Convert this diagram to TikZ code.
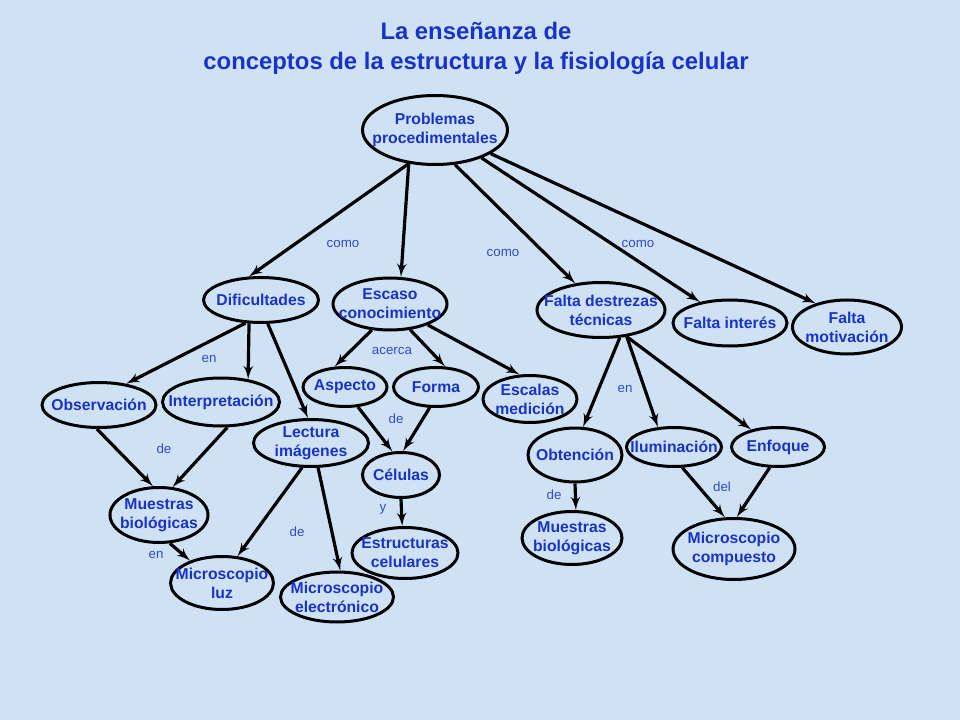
\documentclass[tikz,border=0pt]{standalone}
\usepackage{fontspec}
\setmainfont{Liberation Sans}
\usetikzlibrary{shapes, arrows}
\definecolor{bgblue}{RGB}{207,226,245}
\definecolor{nodeblue}{RGB}{25,50,200}
\definecolor{linkblue}{RGB}{50,75,205}
\begin{document}
\begin{tikzpicture}[
        x=0.75pt,
        y=-0.75pt,
        concept/.style={
            ellipse,
            draw,
            line width=2.25pt,
            text=nodeblue,
            font=\bfseries\fontsize{11.8}{14.2}\selectfont,
            align=center,
            inner sep=-15pt
        },
        dims/.style 2 args={
            minimum width=#1*0.75pt,
            minimum height=#2*0.75pt
        },
        link/.style={
            text=linkblue,
            font=\fontsize{10}{12}\selectfont
        },
        line/.style={
            draw,
            -latex',
            line width=2.4pt
        }
    ]
        \fill [bgblue] (0,0) rectangle (960,720);
        \useasboundingbox (0,0) rectangle (960,720);

        % Title
        \node [text=nodeblue, font=\bfseries\fontsize{17.9}{22.5}\selectfont, align=center] (title) at (476,48)
            {La enseñanza de\\conceptos de la estructura y la fisiología celular};

        % Nodes
        \node [concept, dims={145}{69}] (problemas) at (435,130) {Problemas\\procedimentales};
        \node [concept, dims={115}{45}] (dificultades) at (261,300) {Dificultades};
        \node [concept, dims={114}{52}] (escaso) at (390,304) {Escaso\\conocimiento};
        \node [concept, dims={128}{55}] (destrezas) at (601,310) {Falta destrezas\\técnicas};
        \node [concept, dims={114}{46}] (interes) at (730,323) {Falta interés};
        \node [concept, dims={109}{54}] (motivacion) at (847,327) {Falta\\motivación};
        \node [concept, dims={114}{45}] (observacion) at (99,405) {Observación};
        \node [concept, dims={117}{48}] (interpretacion) at (221,402) {Interpretación};
        \node [concept, dims={115}{47}] (lectura) at (311,443) {Lectura\\imágenes};
        \node [concept, dims={84}{39}] (aspecto) at (345,387) {Aspecto};
        \node [concept, dims={85}{39}] (forma) at (436,387) {Forma};
        \node [concept, dims={94}{47}] (escalas) at (530,399) {Escalas\\medición};
        \node [concept, dims={77}{45}] (celulas) at (401,475) {Células};
        \node [concept, dims={106}{51}] (estructuras) at (405,553) {Estructuras\\celulares};
        \node [concept, dims={98}{55}] (muestrasA) at (159,515) {Muestras\\biológicas};
        \node [concept, dims={103}{53}] (micluz) at (222,583) {Microscopio\\luz};
        \node [concept, dims={113}{50}] (micelec) at (337,597) {Microscopio\\electrónico};
        \node [concept, dims={94}{54}] (obtencion) at (575,455) {Obtención};
        \node [concept, dims={95}{39}] (iluminacion) at (674,447) {Iluminación};
        \node [concept, dims={93}{39}] (enfoque) at (778,447) {Enfoque};
        \node [concept, dims={100}{53}] (muestrasB) at (572,538) {Muestras\\biológicas};
        \node [concept, dims={122}{61}] (miccomp) at (734,549) {Microscopio\\compuesto};

        % Link words
        \node [link] (como1) at (343,244) {como};
        \node [link] (como2) at (503,253) {como};
        \node [link] (como3) at (638,244) {como};
        \node [link] (en1) at (209,359) {en};
        \node [link] (acerca) at (392,351) {acerca};
        \node [link] (de1) at (164,449) {de};
        \node [link] (de2) at (396,419) {de};
        \node [link] (y) at (383,509) {y};
        \node [link] (en2) at (156,555) {en};
        \node [link] (de3) at (297,532) {de};
        \node [link] (en3) at (625,389) {en};
        \node [link] (de4) at (554,495) {de};
        \node [link] (del) at (722,487) {del};

        % Paths
        \path [line] (problemas.-128) -- (dificultades.117);
        \path [line] (problemas.-128) -- (escaso.68);
        \path [line] (problemas.-60) -- (destrezas.134);
        \path [line] (problemas.-31) -- (interes.145);
        \path [line] (problemas.-23) -- (motivacion.143);
        \path [line] (dificultades.-124) -- (observacion.38);
        \path [line] (dificultades.-117) -- (interpretacion.40);
        \path [line] (dificultades.-74) -- (lectura.97);
        \path [line] (observacion.-95) -- (muestrasA.102);
        \path [line] (interpretacion.-76) -- (muestrasA.64);
        \path [line] (muestrasA.-69) -- (micluz.145);
        \path [line] (lectura.-110) -- (micluz.60);
        \path [line] (lectura.-74) -- (micelec.83);
        \path [line] (escaso.-125) -- (aspecto.117);
        \path [line] (escaso.-52) -- (forma.66);
        \path [line] (escaso.-29) -- (escalas.113);
        \path [line] (aspecto.-57) -- (celulas.110);
        \path [line] (forma.-107) -- (celulas.85);
        \path [line] (celulas.-90) -- (estructuras.96);
        \path [line] (destrezas.-56) -- (obtencion.74);
        \path [line] (destrezas.-46) -- (iluminacion.129);
        \path [line] (destrezas.-46) -- (enfoque.147);
        \path [line] (obtencion.-90) -- (muestrasB.82);
        \path [line] (iluminacion.-68) -- (miccomp.106);
        \path [line] (enfoque.-112) -- (miccomp.85);

    \end{tikzpicture}
\end{document}
